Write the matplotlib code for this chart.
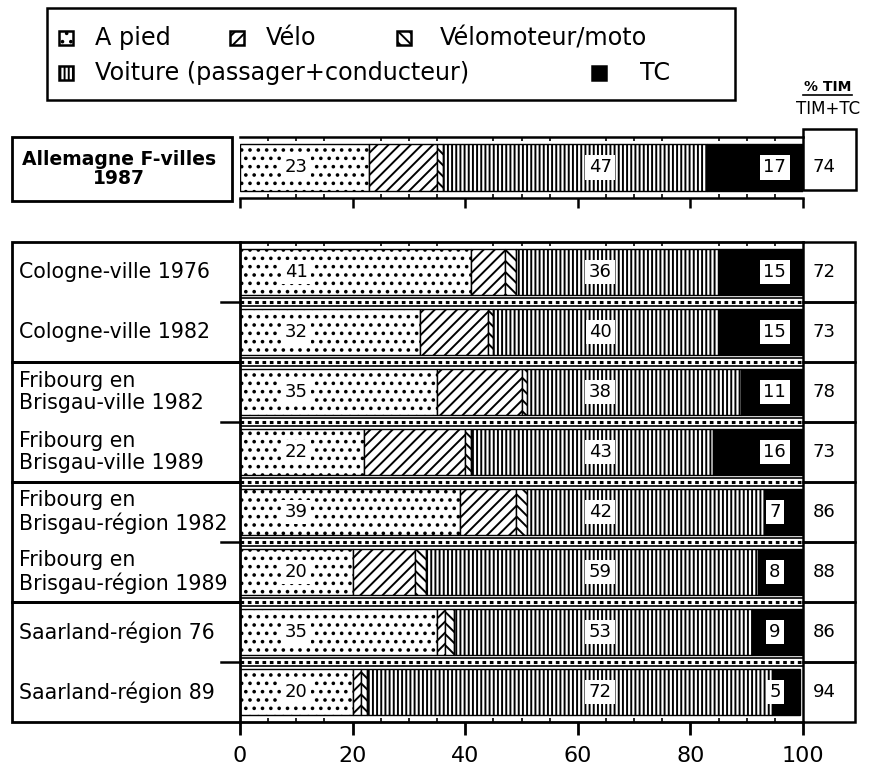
import numpy as np
import matplotlib.pyplot as plt
from matplotlib.patches import Rectangle

# données (parts modales en %)
rows = ['Cologne-ville 1976', 'Cologne-ville 1982',
        'Fribourg en\nBrisgau-ville 1982', 'Fribourg en\nBrisgau-ville 1989',
        'Fribourg en\nBrisgau-région 1982', 'Fribourg en\nBrisgau-région 1989',
        'Saarland-région 76', 'Saarland-région 89']
a_pied = [41, 32, 35, 22, 39, 20, 35, 20]
velo = [6, 12, 15, 18, 10, 11, 1.5, 1.5]
moto = [2, 1, 1, 1, 2, 2, 1.5, 1]
voiture = [36, 40, 38, 43, 42, 59, 53, 72]
tc = [15, 15, 11, 16, 7, 8, 9, 5]
tim_pct = [72, 73, 78, 73, 86, 88, 86, 94]

ref_label = 'Allemagne F-villes\n1987'
ref_vals = [23, 12, 1, 47, 17]
ref_tim = 74

modes = ['A pied', 'Vélo', 'Vélomoteur/moto', 'Voiture (passager+conducteur)', 'TC']
hatches = ['..', '///', '\\\\\\', '||||', None]
fcols = ['white', 'white', 'white', 'white', 'black']

plt.rcParams['hatch.linewidth'] = 1.4
TXT = ['DejaVu Sans']
NUM = ['DejaVu Sans']

W, H = 869, 767
fig = plt.figure(figsize=(8.69, 7.67), dpi=100)

def fx(px):
    return px / W

def fy(py):
    return 1 - py / H

ax = fig.add_axes([fx(240), fy(722), fx(803) - fx(240), fy(242) - fy(722)])
axt = fig.add_axes([fx(240), fy(198), fx(803) - fx(240), fy(137) - fy(198)])


def draw_bars(axis, ys, series, h):
    left = np.zeros(len(ys))
    for vals, hatch, fc in zip(series, hatches, fcols):
        vals = np.asarray(vals, dtype=float)
        axis.barh(ys, vals, left=left, height=h, color=fc, edgecolor='black',
                  hatch=hatch, lw=1)
        left += vals


def value_labels(axis, y, pied, voit, t, tim):
    kw = dict(ha='center', va='center', fontsize=13, family=NUM,
              bbox=dict(facecolor='white', edgecolor='none', pad=2.5))
    axis.text(10, y, str(pied), **kw)
    axis.text(64, y, str(voit), **kw)
    axis.text(95, y, str(t), **kw)
    axis.text(103.8, y, str(tim), ha='center', va='center', fontsize=13,
              family=NUM, clip_on=False)


# ---- panneau du haut (Allemagne) ----
axt.set_xlim(0, 100)
axt.set_ylim(1, 0)
draw_bars(axt, [0.5], [[v] for v in ref_vals], 0.77)
value_labels(axt, 0.5, ref_vals[0], ref_vals[3], ref_vals[4], ref_tim)
axt.add_patch(Rectangle((-40.5, 0), 39.1, 1.05, fill=False, lw=2,
                        clip_on=False))
axt.add_patch(Rectangle((100, -0.13), 9.5, 1.0, fill=False, lw=1.8,
                        clip_on=False))
axt.text(-21.5, 0.52, ref_label, ha='center', va='center', fontsize=13.5,
         fontweight='bold', family=TXT, linespacing=1.0)
axt.set_xticks(range(0, 101, 20))
axt.set_xticks(range(0, 101, 5), minor=True)
axt.tick_params(axis='x', which='major', direction='out', length=7, width=1.8,
                labelbottom=False)
axt.tick_params(axis='x', which='minor', direction='in', length=3, width=1.2,
                top=True)
axt.set_yticks([])
axt.spines['left'].set_visible(False)
axt.spines['right'].set_visible(False)
for s in ['top', 'bottom']:
    axt.spines[s].set_linewidth(1.8)

# ---- panneau principal ----
n = len(rows)
ys = np.arange(n) + 0.5
ax.set_xlim(0, 100)
ax.set_ylim(n, 0)
draw_bars(ax, ys, [a_pied, velo, moto, voiture, tc], 0.78)
for i in range(n):
    value_labels(ax, ys[i], a_pied[i], voiture[i], tc[i], tim_pct[i])
    ax.text(-39.3, ys[i], rows[i], ha='left', va='center', fontsize=14.8,
            family=TXT, linespacing=1.1, clip_on=False)
    ax.add_patch(Rectangle((100, i), 9.2, 1, fill=False, lw=1.8,
                           clip_on=False))

# séparateurs entre barres
for b in range(1, n):
    ax.axhline(b - 0.065, color='black', lw=1.2)
    ax.axhline(b + 0.065, color='black', lw=1.2)
    ax.axhline(b, color='black', lw=2.2, ls=(0, (1.2, 1.2)))

# cadres des libellés (par paires)
for k in range(0, n, 2):
    ax.add_patch(Rectangle((-40.5, k), 40.5, 2, fill=False, lw=2,
                           clip_on=False))
    ax.plot([-3.3, 0], [k + 1, k + 1], color='black', lw=1.8, clip_on=False)

ax.set_xticks(range(0, 101, 20))
ax.set_xticks(range(0, 101, 5), minor=True)
ax.set_xticklabels([str(v) for v in range(0, 101, 20)], family=NUM,
                   fontsize=16)
ax.tick_params(axis='x', which='major', direction='out', length=9, width=2,
               pad=8)
ax.tick_params(axis='x', which='minor', direction='in', length=3, width=1.2,
               top=True)
ax.set_yticks([])
ax.spines['left'].set_visible(False)
ax.spines['right'].set_visible(False)
for s in ['top', 'bottom']:
    ax.spines[s].set_linewidth(2)

# ---- légende ----
fig.add_artist(Rectangle((fx(47), fy(100)), fx(735) - fx(47), fy(8) - fy(100),
                         fill=False, lw=1.8, transform=fig.transFigure))
leg_pos = [(66, 38, 95), (237, 38, 266), (404, 38, 440),
           (66, 73, 95), (599, 73, 640)]
for (cx, cy, tx), lab, hatch, fc in zip(leg_pos, modes, hatches, fcols):
    fig.add_artist(Rectangle((fx(cx - 7), fy(cy + 7)), fx(14), 14 / H,
                             facecolor=fc, edgecolor='black', hatch=hatch,
                             lw=1.8, transform=fig.transFigure))
    fig.text(fx(tx), fy(cy), lab, ha='left', va='center', fontsize=17.2,
             family=TXT)

# en-tête de la colonne % TIM
fig.text(fx(828), fy(87), '% TIM', ha='center', va='center', fontsize=10,
         fontweight='bold', family=NUM)
fig.add_artist(plt.Line2D([fx(803), fx(852)], [fy(95), fy(95)], color='black',
                          lw=1.2, transform=fig.transFigure))
fig.text(fx(828), fy(109), 'TIM+TC', ha='center', va='center', fontsize=12,
         family=NUM)

fig.savefig('out.png', dpi=100)
